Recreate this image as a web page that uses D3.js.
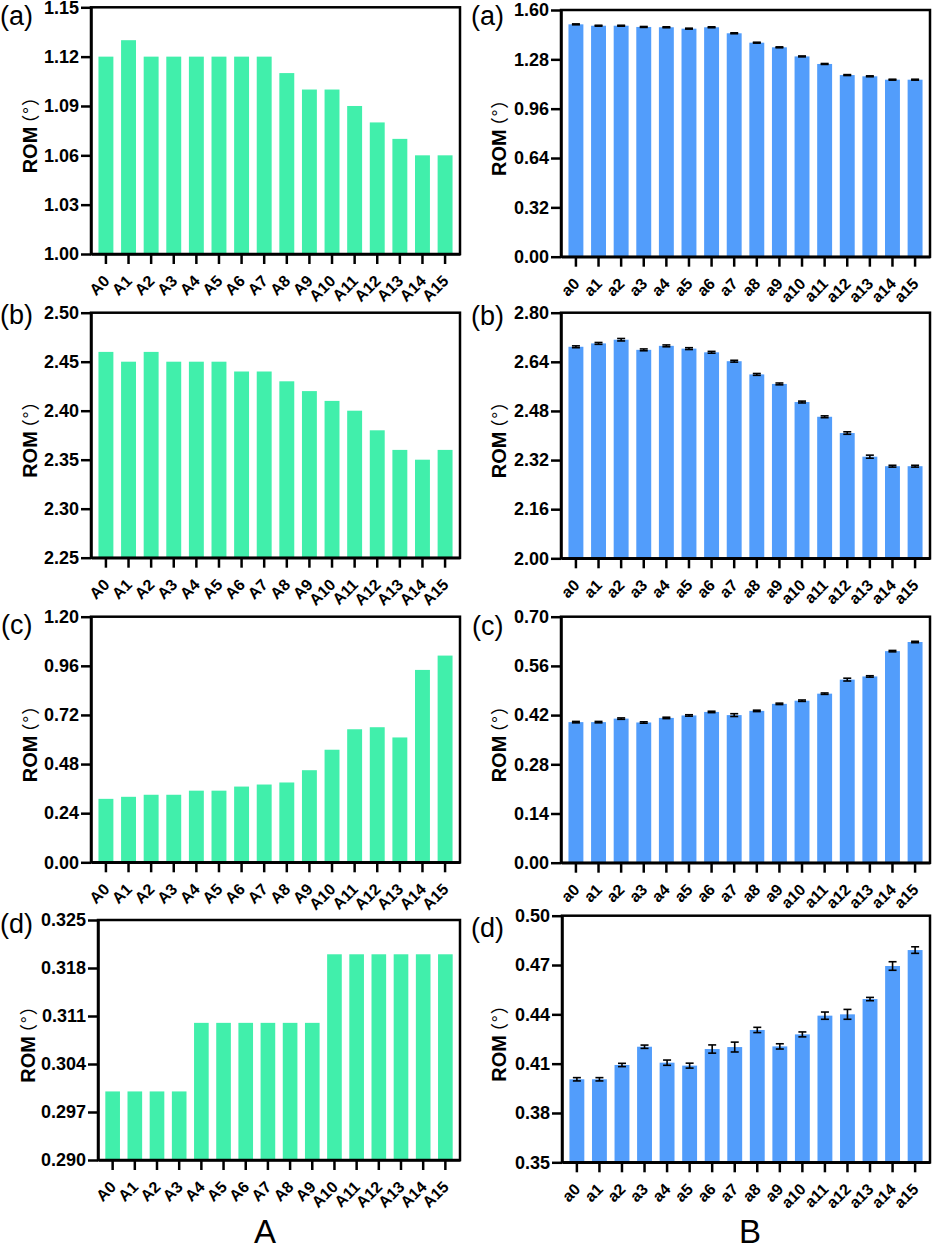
<!DOCTYPE html>
<html><head><meta charset="utf-8">
<script src="https://cdn.jsdelivr.net/npm/d3@7"></script>
<style>body{margin:0;background:#fff} svg{display:block}</style>
</head><body>
<svg id="c" width="934" height="1250"></svg>
<script>
// ---------- data ----------
const catsA = ["A0","A1","A2","A3","A4","A5","A6","A7","A8","A9","A10","A11","A12","A13","A14","A15"];
const catsB = ["a0","a1","a2","a3","a4","a5","a6","a7","a8","a9","a10","a11","a12","a13","a14","a15"];

const valsAa = [1.12,1.13,1.12,1.12,1.12,1.12,1.12,1.12,1.11,1.10,1.10,1.09,1.08,1.07,1.06,1.06];
const valsAb = [2.46,2.45,2.46,2.45,2.45,2.45,2.44,2.44,2.43,2.42,2.41,2.40,2.38,2.36,2.35,2.36];
const valsAc = [0.31,0.32,0.33,0.33,0.35,0.35,0.37,0.38,0.39,0.45,0.55,0.65,0.66,0.61,0.94,1.01];
const valsAd = [0.300,0.300,0.300,0.300,0.310,0.310,0.310,0.310,0.310,0.310,0.320,0.320,0.320,0.320,0.320,0.320];

const valsBa = [1.507,1.498,1.498,1.490,1.488,1.479,1.488,1.449,1.388,1.358,1.299,1.250,1.178,1.170,1.148,1.148];
const errBa  = [0.003,0.003,0.003,0.003,0.003,0.003,0.003,0.003,0.003,0.003,0.003,0.003,0.003,0.003,0.003,0.003];
const valsBb = [2.689,2.700,2.712,2.679,2.692,2.683,2.671,2.642,2.599,2.568,2.509,2.461,2.408,2.331,2.300,2.300];
const errBb  = [0.003,0.003,0.004,0.003,0.003,0.003,0.003,0.003,0.003,0.003,0.003,0.003,0.004,0.005,0.003,0.003];
const valsBc = [0.400,0.400,0.410,0.399,0.412,0.419,0.429,0.420,0.432,0.452,0.461,0.481,0.521,0.530,0.602,0.628];
const errBc  = [0.002,0.002,0.002,0.002,0.002,0.002,0.002,0.004,0.002,0.002,0.002,0.002,0.004,0.002,0.002,0.002];
const valsBd = [0.4005,0.4005,0.4092,0.4203,0.4106,0.4088,0.4189,0.4201,0.4305,0.4205,0.4278,0.4392,0.4400,0.4493,0.4694,0.4791];
const errBd  = [0.0010,0.0010,0.0010,0.0010,0.0016,0.0015,0.0025,0.0030,0.0016,0.0016,0.0015,0.0022,0.0030,0.0010,0.0026,0.0020];

const ticksAa = [1.00,1.03,1.06,1.09,1.12,1.15];
const ticksAb = [2.25,2.30,2.35,2.40,2.45,2.50];
const ticksAc = [0.00,0.24,0.48,0.72,0.96,1.20];
const ticksAd = [0.290,0.297,0.304,0.311,0.318,0.325];
const ticksBa = [0.00,0.32,0.64,0.96,1.28,1.60];
const ticksBb = [2.00,2.16,2.32,2.48,2.64,2.80];
const ticksBc = [0.00,0.14,0.28,0.42,0.56,0.70];
const ticksBd = [0.35,0.38,0.41,0.44,0.47,0.50];

const panelLetters = ["(a)","(b)","(c)","(d)"];
const yTitle = "ROM";
const yUnitParts = ["（","°","）"];
const groupTitles = ["A","B"];

// ---------- layout / style ----------
const FONT = "'Liberation Sans', Arial, Helvetica, sans-serif";
const CJK = "'Noto Sans CJK SC', 'Noto Sans', sans-serif";
const GREEN = "#41EFAB", BLUE = "#529DFB";
const svg = d3.select("#c");

const panels = [
  {cats:catsA, vals:valsAa, err:null, ticks:ticksAa, dec:2, letter:panelLetters[0], x0:91, x1:460, y0:7.3,  y1:254,   lx:0,   ly:25,  ylx:37,  color:GREEN},
  {cats:catsA, vals:valsAb, err:null, ticks:ticksAb, dec:2, letter:panelLetters[1], x0:91, x1:460, y0:312.7,y1:557.7, lx:0,   ly:324, ylx:37,  color:GREEN},
  {cats:catsA, vals:valsAc, err:null, ticks:ticksAc, dec:2, letter:panelLetters[2], x0:91, x1:460, y0:616.7,y1:862.3, lx:1,   ly:634, ylx:37,  color:GREEN},
  {cats:catsA, vals:valsAd, err:null, ticks:ticksAd, dec:3, letter:panelLetters[3], x0:98, x1:460, y0:920,  y1:1160,  lx:0,   ly:933, ylx:35,  color:GREEN},
  {cats:catsB, vals:valsBa, err:errBa, ticks:ticksBa, dec:2, letter:panelLetters[0], x0:561,x1:930, y0:10,   y1:256.7, lx:471, ly:25,  ylx:506, color:BLUE},
  {cats:catsB, vals:valsBb, err:errBb, ticks:ticksBb, dec:2, letter:panelLetters[1], x0:561,x1:930, y0:312.7,y1:558.3, lx:471, ly:325, ylx:506, color:BLUE},
  {cats:catsB, vals:valsBc, err:errBc, ticks:ticksBc, dec:2, letter:panelLetters[2], x0:561,x1:930, y0:616.7,y1:862.7, lx:472, ly:635, ylx:506, color:BLUE},
  {cats:catsB, vals:valsBd, err:errBd, ticks:ticksBd, dec:2, letter:panelLetters[3], x0:562,x1:930, y0:915.7,y1:1162.3,lx:471, ly:937, ylx:506, color:BLUE}
];

function drawPanel(p){
  const g = svg.append("g");
  const x = d3.scaleBand().domain(p.cats).range([p.x0, p.x1]).paddingInner(0.34).paddingOuter(0.33);
  const y = d3.scaleLinear().domain([p.ticks[0], p.ticks[p.ticks.length-1]]).range([p.y1, p.y0]);

  g.selectAll("rect.bar").data(p.vals).join("rect")
    .attr("class","bar")
    .attr("x",(d,i)=>x(p.cats[i]))
    .attr("width",x.bandwidth())
    .attr("y",d=>y(d))
    .attr("height",d=>y(p.ticks[0])-y(d))
    .attr("fill",p.color);

  if(p.err){
    const eg = g.append("g").attr("stroke","#000").attr("stroke-width",1.6);
    p.vals.forEach((v,i)=>{
      const cx = x(p.cats[i]) + x.bandwidth()/2;
      const yt = y(v + p.err[i]), yb = y(v - p.err[i]);
      eg.append("line").attr("x1",cx).attr("x2",cx).attr("y1",yt).attr("y2",yb);
      eg.append("line").attr("x1",cx-4).attr("x2",cx+4).attr("y1",yt).attr("y2",yt);
      eg.append("line").attr("x1",cx-4).attr("x2",cx+4).attr("y1",yb).attr("y2",yb);
    });
  }

  g.append("rect").attr("x",p.x0).attr("y",p.y0).attr("width",p.x1-p.x0).attr("height",p.y1-p.y0)
    .attr("fill","none").attr("stroke","#000").attr("stroke-width",2.5);

  const ya = g.append("g").attr("transform",`translate(${p.x0},0)`)
    .call(d3.axisLeft(y).tickValues(p.ticks).tickFormat(d3.format(`.${p.dec}f`)).tickSize(10).tickPadding(2).tickSizeOuter(0));
  ya.select(".domain").attr("stroke-width",2.5);
  ya.selectAll(".tick line").attr("stroke-width",2.5);
  ya.selectAll(".tick text").attr("font-size",18).attr("font-weight","bold").attr("font-family",FONT).attr("fill","#000");

  const xa = g.append("g").attr("transform",`translate(0,${p.y1})`)
    .call(d3.axisBottom(x).tickSize(10).tickSizeOuter(0));
  xa.select(".domain").attr("stroke-width",2.5);
  xa.selectAll(".tick line").attr("stroke-width",2.5);
  xa.selectAll(".tick text")
    .attr("x",0).attr("y",0).attr("dy",0)
    .attr("transform","translate(4.5,28) rotate(-45)")
    .attr("text-anchor","end")
    .attr("font-size",16).attr("font-weight","bold").attr("font-family",FONT).attr("fill","#000");

  // y title
  const t = g.append("text")
    .attr("transform",`translate(${p.ylx},${(p.y0+p.y1)/2}) rotate(-90)`)
    .attr("text-anchor","middle").attr("font-size",20).attr("fill","#000");
  t.append("tspan").attr("font-family",FONT).attr("font-weight","bold").text(yTitle);
  t.append("tspan").attr("font-family",CJK).attr("font-weight","normal").attr("font-size",18).attr("dx",-6).text(yUnitParts[0]);
  t.append("tspan").attr("font-family",CJK).attr("font-weight","normal").attr("font-size",18).attr("dx",1).text(yUnitParts[1]);
  t.append("tspan").attr("font-family",CJK).attr("font-weight","normal").attr("font-size",18).attr("dx",1).text(yUnitParts[2]);

  // panel letter
  g.append("text").attr("x",p.lx).attr("y",p.ly).attr("font-family",FONT).attr("font-size",27).attr("fill","#000").text(p.letter);
}

panels.forEach(drawPanel);

svg.append("text").attr("x",265).attr("y",1243).attr("text-anchor","middle").attr("font-family",FONT).attr("font-size",33).text(groupTitles[0]);
svg.append("text").attr("x",750).attr("y",1243).attr("text-anchor","middle").attr("font-family",FONT).attr("font-size",33).text(groupTitles[1]);
</script>
</body></html>
